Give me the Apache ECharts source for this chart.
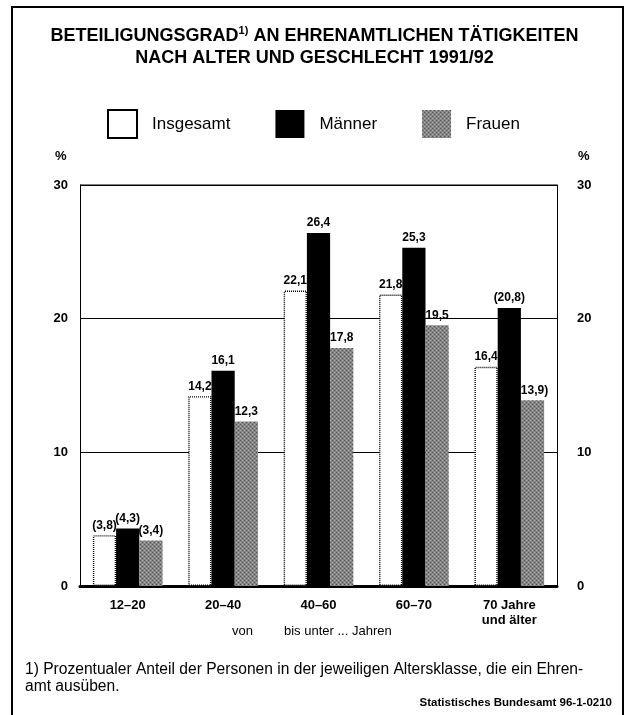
<!DOCTYPE html>
<html>
<head>
<meta charset="utf-8">
<script src="https://cdn.jsdelivr.net/npm/echarts@6/dist/echarts.min.js"></script>
<style>
  html, body { margin: 0; padding: 0; background: #fff; }
  #chart { width: 629px; height: 715px; }
</style>
</head>
<body>
<div id="chart"></div>
<script>
// Age groups and participation rates (%) by sex
const categories = ['12–20', '20–40', '40–60', '60–70', '70 Jahre\nund älter'];
const insgesamt = [3.8, 14.2, 22.1, 21.8, 16.4];
const maenner   = [4.3, 16.1, 26.4, 25.3, 20.8];
const frauen    = [3.4, 12.3, 17.8, 19.5, 13.9];
// values with limited reliability are shown in brackets
const bracketInsgesamt = [true, false, false, false, false];
const bracketMaenner   = [true, false, false, false, true];
const bracketFrauen    = [true, false, false, false, true];
const yTicks = [0, 10, 20, 30];

const FONT = '"Liberation Sans", Arial, sans-serif';

function fmt(v, bracket) {
  const s = v.toFixed(1).replace('.', ',');
  return bracket ? '(' + s + ')' : s;
}

// grey dotted fill for the women's bars
function makePattern() {
  const c = document.createElement('canvas');
  c.width = 4; c.height = 4;
  const ctx = c.getContext('2d');
  ctx.fillStyle = '#858585';
  ctx.fillRect(0, 0, 4, 4);
  ctx.fillStyle = '#505050';
  ctx.fillRect(0, 0, 1, 1);
  ctx.fillRect(2, 2, 1, 1);
  ctx.fillStyle = '#adadad';
  ctx.fillRect(2, 0, 1, 1);
  ctx.fillRect(0, 2, 1, 1);
  return c;
}
const pattern = { image: makePattern(), repeat: 'repeat' };

function labelled(values, brackets) {
  return values.map((v, i) => ({ value: v, bracket: brackets[i] }));
}

const labelCfg = {
  show: true,
  position: 'top',
  distance: 4,
  color: '#000',
  fontFamily: FONT,
  fontSize: 12,
  fontWeight: 'bold',
  formatter: p => fmt(p.value, p.data.bracket)
};

const chart = echarts.init(document.getElementById('chart'), null, { renderer: 'canvas' });

chart.setOption({
  backgroundColor: '#fff',
  animation: false,
  textStyle: { fontFamily: FONT, color: '#000' },
  title: {
    text: 'BETEILIGUNGSGRAD{sup|1)} AN EHRENAMTLICHEN TÄTIGKEITEN\nNACH ALTER UND GESCHLECHT 1991/92',
    left: 'center',
    top: 20,
    textStyle: {
      fontFamily: FONT,
      fontSize: 18,
      fontWeight: 'bold',
      color: '#000',
      lineHeight: 22,
      rich: {
        sup: { fontSize: 11, fontWeight: 'bold', verticalAlign: 'top', lineHeight: 22, padding: [0, 0, 8, 0] }
      }
    }
  },
  legend: {
    left: 102,
    top: 104,
    itemWidth: 29,
    itemHeight: 28,
    itemGap: 45,
    icon: 'rect',
    textStyle: { fontFamily: FONT, fontSize: 17, color: '#000', padding: [0, 0, 0, 10] },
    data: ['Insgesamt', 'Männer', 'Frauen']
  },
  grid: { left: 80, right: 72, top: 185, bottom: 129 },
  xAxis: {
    type: 'category',
    data: categories,
    axisTick: { show: false },
    axisLine: { show: true, lineStyle: { color: '#000', width: 3 } },
    axisLabel: { color: '#000', fontFamily: FONT, fontSize: 13, fontWeight: 'bold', margin: 12, lineHeight: 15, interval: 0 }
  },
  yAxis: [
    {
      type: 'value', min: 0, max: 30, interval: 10,
      axisLine: { show: true, lineStyle: { color: '#000', width: 1 } },
      axisTick: { show: false },
      splitLine: { show: true, lineStyle: { color: '#000', width: 1.2 } },
      axisLabel: { color: '#000', fontFamily: FONT, fontSize: 13, fontWeight: 'bold', margin: 12,
        formatter: v => yTicks.includes(v) ? String(v) : '' }
    },
    {
      type: 'value', min: 0, max: 30, interval: 10, position: 'right',
      axisLine: { show: true, lineStyle: { color: '#000', width: 1 } },
      axisTick: { show: false },
      splitLine: { show: false },
      axisLabel: { color: '#000', fontFamily: FONT, fontSize: 13, fontWeight: 'bold', margin: 20,
        formatter: v => yTicks.includes(v) ? String(v) : '' }
    }
  ],
  series: [
    {
      name: 'Insgesamt', type: 'bar', barGap: '0%', barCategoryGap: '27%',
      data: labelled(insgesamt, bracketInsgesamt),
      itemStyle: { color: '#fff', borderColor: '#000', borderWidth: 1.4, borderType: [1, 1] },
      label: labelCfg
    },
    {
      name: 'Männer', type: 'bar', barGap: '0%', barCategoryGap: '27%',
      data: labelled(maenner, bracketMaenner),
      itemStyle: { color: '#000' },
      label: labelCfg
    },
    {
      name: 'Frauen', type: 'bar', barGap: '0%', barCategoryGap: '27%',
      data: labelled(frauen, bracketFrauen),
      itemStyle: { color: pattern },
      label: labelCfg
    }
  ],
  graphic: [
    // outer frame
    { type: 'rect', shape: { x: 12, y: 7, width: 611, height: 720 }, style: { fill: null, stroke: '#000', lineWidth: 2 }, silent: true },
    // top border of plot area
    { type: 'line', shape: { x1: 80, y1: 185, x2: 557, y2: 185 }, style: { stroke: '#000', lineWidth: 1.2 }, silent: true },
    { type: 'text', left: 55, top: 150, style: { text: '%', font: 'bold 13px ' + FONT, fill: '#000' } },
    { type: 'text', left: 578, top: 150, style: { text: '%', font: 'bold 13px ' + FONT, fill: '#000' } },
    { type: 'text', left: 232, top: 625, style: { text: 'von', font: '13px ' + FONT, fill: '#000' } },
    { type: 'text', left: 284, top: 625, style: { text: 'bis unter ... Jahren', font: '13px ' + FONT, fill: '#000' } },
    { type: 'text', left: 25, top: 661, style: { text: '1) Prozentualer Anteil der Personen in der jeweiligen Altersklasse, die ein Ehren-\namt ausüben.', font: '15.6px ' + FONT, fill: '#000', lineHeight: 17 } },
    { type: 'text', right: 17, top: 697, style: { text: 'Statistisches Bundesamt 96-1-0210', font: 'bold 11.5px ' + FONT, fill: '#000' } }
  ]
});
</script>
</body>
</html>
